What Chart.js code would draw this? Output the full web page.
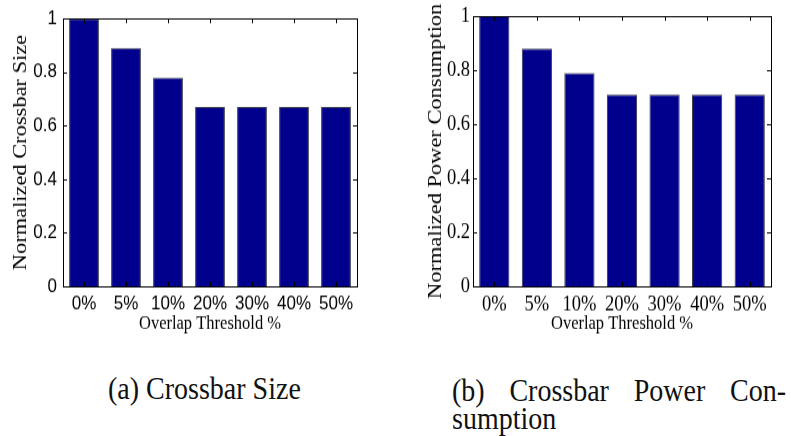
<!DOCTYPE html>
<html>
<head>
<meta charset="utf-8">
<script src="https://cdn.jsdelivr.net/npm/chart.js@4/dist/chart.umd.min.js"></script>
<style>
  html, body { margin: 0; padding: 0; background: #fff; }
  #page { position: relative; width: 791px; height: 436px; overflow: hidden; }
  canvas {
    position: absolute;
    top: 0;
    transform: scale(1, 1.15);
    transform-origin: 0 0;
  }
  .caption {
    position: absolute;
    font-family: "Liberation Serif", serif;
    font-size: 28px;
    line-height: 24px;
    color: #111;
    white-space: nowrap;
    transform: scale(1, 1.15);
    transform-origin: 0 0;
  }
</style>
</head>
<body>
<div id="page">
  <canvas id="sizeChart" width="395" height="300" style="left:0"></canvas>
  <canvas id="powerChart" width="396" height="300" style="left:395px"></canvas>
  <div class="caption" style="left:108px; top:375px">(a) Crossbar Size</div>
  <div class="caption" style="left:452px; top:377px; width:334px; text-align:justify; text-align-last:justify">(b) Crossbar Power Con-</div>
  <div class="caption" style="left:452px; top:405px">sumption</div>
</div>
<script>
const thresholds = ["0%", "5%", "10%", "20%", "30%", "40%", "50%"];
const crossbarSize = [1, 0.89, 0.78, 0.67, 0.67, 0.67, 0.67];
const powerConsumption = [1, 0.88, 0.79, 0.71, 0.71, 0.71, 0.71];
const yTicks = [0, 0.2, 0.4, 0.6, 0.8, 1];

const barColor = "rgb(0,0,140)";

// matlab style box: frame round the plot and short inward ticks on all sides
const boxPlugin = {
  id: "box",
  afterDatasetsDraw(chart) {
    const ctx = chart.ctx;
    const a = chart.chartArea;
    const x = chart.scales.x, y = chart.scales.y;
    const len = 4;
    ctx.save();
    ctx.strokeStyle = "#000";
    ctx.lineWidth = 1;
    ctx.beginPath();
    yTicks.forEach(v => {
      const py = Math.round(y.getPixelForValue(v)) + 0.5;
      ctx.moveTo(a.left, py); ctx.lineTo(a.left + len, py);
      ctx.moveTo(a.right, py); ctx.lineTo(a.right - len, py);
    });
    thresholds.forEach((t, i) => {
      const px = Math.round(x.getPixelForValue(i)) + 0.5;
      ctx.moveTo(px, a.top); ctx.lineTo(px, a.top + len);
      ctx.moveTo(px, a.bottom); ctx.lineTo(px, a.bottom - len);
    });
    ctx.stroke();
    ctx.strokeRect(Math.round(a.left) + 0.5, Math.round(a.top) + 0.5,
      Math.round(a.right - a.left), Math.round(a.bottom - a.top));
    ctx.restore();
  }
};

const whiteBg = {
  id: "whiteBg",
  beforeDraw(chart) {
    const ctx = chart.ctx;
    ctx.save();
    ctx.fillStyle = "#fff";
    ctx.fillRect(0, 0, chart.width, chart.height);
    ctx.restore();
  }
};

function makeChart(id, values, opts) {
  return new Chart(document.getElementById(id), {
    type: "bar",
    data: {
      labels: thresholds,
      datasets: [{
        data: values,
        backgroundColor: barColor,
        borderColor: "#3a3a4a",
        borderWidth: 1,
        barPercentage: 0.71,
        categoryPercentage: 1
      }]
    },
    options: {
      responsive: false,
      animation: false,
      layout: { padding: { top: 14, right: opts.padRight, left: 0, bottom: 0 } },
      plugins: { legend: { display: false }, tooltip: { enabled: false } },
      scales: {
        x: {
          grid: { display: false, drawTicks: false },
          border: { display: false },
          ticks: { color: "#000", padding: 5, maxRotation: 0, autoSkip: false, font: opts.tickFont },
          title: {
            display: true,
            text: "Overlap Threshold %",
            color: "#000",
            font: { family: "Liberation Serif", size: 16.5 },
            padding: { top: 0, bottom: 8 }
          },
          afterFit(s) { s.height = 51; }
        },
        y: {
          min: 0,
          max: 1,
          grid: { display: false, drawTicks: false },
          border: { display: false },
          ticks: {
            stepSize: 0.2,
            color: "#000",
            padding: opts.tickPad,
            font: opts.tickFont,
            callback: v => String(+v.toFixed(1))
          },
          title: {
            display: true,
            text: opts.yTitle,
            color: "#000",
            font: { family: "Liberation Serif", size: 19.5 },
            padding: { top: opts.titlePad, bottom: 0 }
          },
          afterFit(s) { s.width = opts.yWidth; }
        }
      }
    },
    plugins: [whiteBg, boxPlugin]
  });
}

makeChart("sizeChart", crossbarSize, {
  yTitle: "Normalized Crossbar Size",
  tickFont: { family: "Liberation Sans", size: 17 },
  tickPad: 6,
  titlePad: 9,
  yWidth: 63,
  padRight: 38
});

makeChart("powerChart", powerConsumption, {
  yTitle: "Normalized Power Consumption",
  tickFont: { family: "Liberation Serif", size: 18.5 },
  tickPad: 3,
  titlePad: 29,
  yWidth: 78,
  padRight: 20
});
</script>
</body>
</html>
